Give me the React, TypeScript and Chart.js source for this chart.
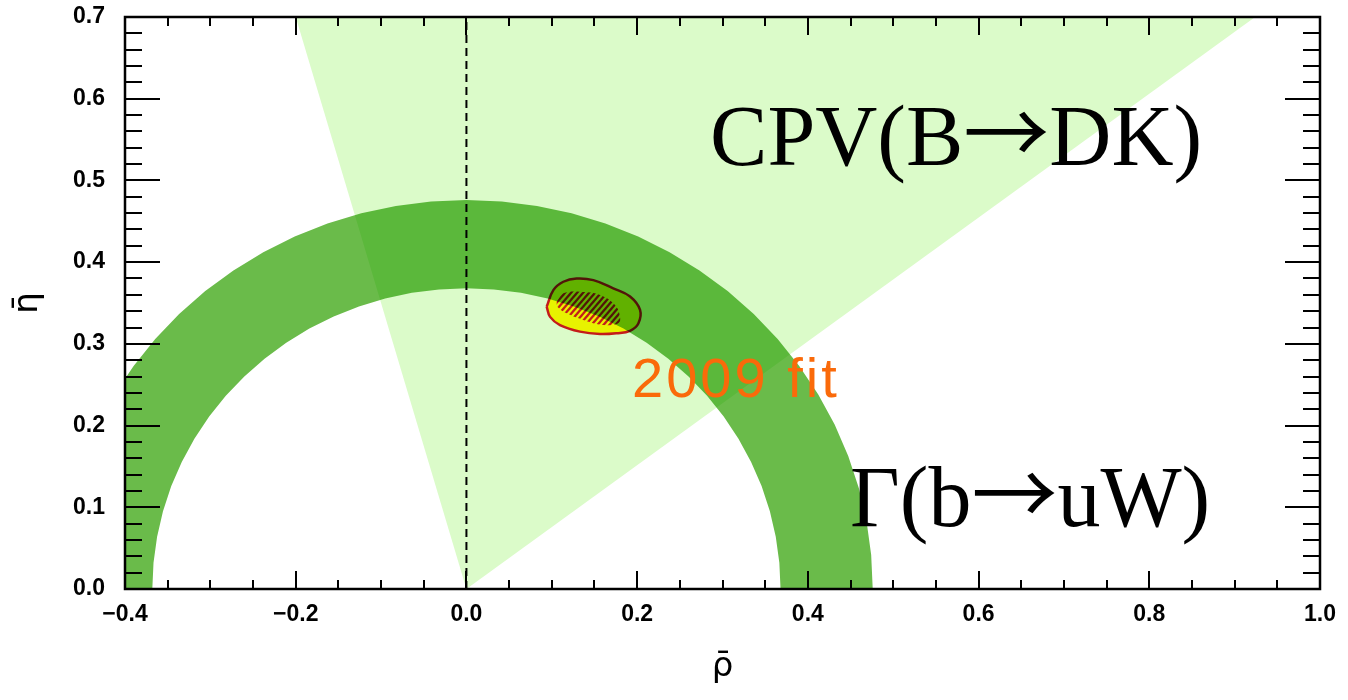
import React, { useEffect, useRef } from 'react';
import { Chart, registerables } from 'chart.js';

// blend plugin registered before the built-ins so it wraps the filler's drawing
const blendPlugin = {
  id: 'datasetBlend',
  beforeDatasetDraw(chart: any, args: any) {
    const ds = chart.data.datasets[args.index];
    if (ds && ds.blend) {
      chart.ctx.save();
      chart.ctx.globalCompositeOperation = ds.blend;
    }
  },
  afterDatasetDraw(chart: any, args: any) {
    const ds = chart.data.datasets[args.index];
    if (ds && ds.blend) chart.ctx.restore();
  },
};
Chart.register(blendPlugin as any);
Chart.register(...registerables);

// ---- tick labels ----
const xTickLabels = ['−0.4', '−0.2', '0.0', '0.2', '0.4', '0.6', '0.8', '1.0'];
const yTickLabels = ['0.0', '0.1', '0.2', '0.3', '0.4', '0.5', '0.6', '0.7'];

// ---- CPV(B→DK) wedge (apex at origin) ----
const wedgeX = [0, -0.2, 0.924];
const wedgeY = [0, 0.7, 0.7];

// ---- Γ(b→uW) band: outer edge (left → right) and inner edge (right → left) ----
const bandOuterX = [-0.476, -0.4742, -0.4688, -0.4598, -0.4473, -0.4314, -0.4122, -0.3899, -0.3646, -0.3366, -0.306, -0.273, -0.238, -0.2012, -0.1628, -0.1232, -0.0827, -0.0415, 0, 0.0415, 0.0827, 0.1232, 0.1628, 0.2012, 0.238, 0.273, 0.306, 0.3366, 0.3646, 0.3899, 0.4122, 0.4314, 0.4473, 0.4598, 0.4688, 0.4742, 0.476];
const bandOuterY = [0, 0.0415, 0.0827, 0.1232, 0.1628, 0.2012, 0.238, 0.273, 0.306, 0.3366, 0.3646, 0.3899, 0.4122, 0.4314, 0.4473, 0.4598, 0.4688, 0.4742, 0.476, 0.4742, 0.4688, 0.4598, 0.4473, 0.4314, 0.4122, 0.3899, 0.3646, 0.3366, 0.306, 0.273, 0.238, 0.2012, 0.1628, 0.1232, 0.0827, 0.0415, 0];
const bandInnerX = [0.368, 0.3666, 0.3624, 0.3555, 0.3458, 0.3335, 0.3187, 0.3014, 0.2819, 0.2602, 0.2365, 0.2111, 0.184, 0.1555, 0.1259, 0.0952, 0.0639, 0.0321, 0, -0.0321, -0.0639, -0.0952, -0.1259, -0.1555, -0.184, -0.2111, -0.2365, -0.2602, -0.2819, -0.3014, -0.3187, -0.3335, -0.3458, -0.3555, -0.3624, -0.3666, -0.368];
const bandInnerY = [0, 0.0321, 0.0639, 0.0952, 0.1259, 0.1555, 0.184, 0.2111, 0.2365, 0.2602, 0.2819, 0.3014, 0.3187, 0.3335, 0.3458, 0.3555, 0.3624, 0.3666, 0.368, 0.3666, 0.3624, 0.3555, 0.3458, 0.3335, 0.3187, 0.3014, 0.2819, 0.2602, 0.2365, 0.2111, 0.184, 0.1555, 0.1259, 0.0952, 0.0639, 0.0321, 0];

// ---- 2009 fit contours ----
const fitOuterX = [0.094, 0.102, 0.1135, 0.129, 0.1487, 0.172, 0.1917, 0.2034, 0.2014, 0.1917, 0.176, 0.1565, 0.133, 0.1096, 0.098, 0.094];
const fitOuterY = [0.3455, 0.366, 0.376, 0.38, 0.378, 0.368, 0.358, 0.3415, 0.325, 0.316, 0.313, 0.312, 0.315, 0.323, 0.333, 0.3455];
const fitInnerX = [0.1058, 0.1135, 0.1331, 0.1565, 0.1741, 0.1799, 0.178, 0.1604, 0.137, 0.1175, 0.1065, 0.1058];
const fitInnerY = [0.3517, 0.3619, 0.3639, 0.3599, 0.3476, 0.3333, 0.3252, 0.3231, 0.3293, 0.3374, 0.3455, 0.3517];

// ---- vertical reference line ----
const refLineX = [0, 0];
const refLineY = [0, 0.7];

// ---- annotation texts ----
const annotationTexts = ['CPV(B→DK)', 'Γ(b→uW)', '2009 fit'];
const annotationX = [0.2854, 0.4494, 0.194];
const annotationY = [0.519, 0.0765, 0.235];

const toPoints = (xs: number[], ys: number[]) => xs.map((x, i) => ({ x, y: ys[i] }));

const RED = '#c41c1a';
const SERIF = "'Liberation Serif', 'Times New Roman', serif";

export default function App() {
  const canvasRef = useRef<HTMLCanvasElement | null>(null);

  useEffect(() => {
    const canvas = canvasRef.current;
    if (!canvas) return;

    // hatch pattern
    const pc = document.createElement('canvas');
    pc.width = 6;
    pc.height = 7;
    const pctx = pc.getContext('2d')!;
    pctx.strokeStyle = RED;
    pctx.lineWidth = 2.3;
    for (const dx of [-6, 0, 6]) {
      pctx.beginPath();
      pctx.moveTo(dx - 1, 7 + 7 / 6);
      pctx.lineTo(dx + 7, -7 / 6);
      pctx.stroke();
    }
    const ctx0 = canvas.getContext('2d')!;
    const hatch = ctx0.createPattern(pc, 'repeat');

    const annotationStyles = [
      { size: 86, family: SERIF, color: '#000000', spacing: '0px' },
      { size: 86, family: SERIF, color: '#000000', spacing: '0px' },
      { size: 56, family: "'Liberation Sans', Arial, sans-serif", color: '#fa6a0a', spacing: '3px' },
    ];

    const framePlugin = {
      id: 'rootFrame',
      afterDatasetsDraw(chart: any) {
        const { ctx, chartArea, scales } = chart;
        const xs = scales.x;
        const ys = scales.y;
        const { left, right, top, bottom } = chartArea;
        ctx.save();
        // annotations (arrow glyph from a font with a long thin arrow)
        annotationTexts.forEach((t, i) => {
          const st = annotationStyles[i];
          ctx.fillStyle = st.color;
          ctx.textAlign = 'left';
          ctx.textBaseline = 'alphabetic';
          (ctx as any).letterSpacing = st.spacing;
          let px = xs.getPixelForValue(annotationX[i]);
          const py = ys.getPixelForValue(annotationY[i]);
          const parts = t.split(/(→)/);
          for (const part of parts) {
            if (!part) continue;
            if (part === '→') {
              ctx.font = `${st.size}px 'Noto Sans CJK JP', 'DejaVu Sans', sans-serif`;
            } else {
              ctx.font = `${st.size}px ${st.family}`;
            }
            ctx.fillText(part, px, py);
            px += ctx.measureText(part).width;
          }
        });
        (ctx as any).letterSpacing = '0px';
        // ticks inside the frame
        ctx.strokeStyle = '#000';
        ctx.lineWidth = 2;
        ctx.beginPath();
        for (let i = 0; i <= 28; i++) {
          const v = -0.4 + i * 0.05;
          const px = Math.round(xs.getPixelForValue(v));
          const len = i % 4 === 0 ? 18 : 9;
          ctx.moveTo(px, bottom);
          ctx.lineTo(px, bottom - len);
          ctx.moveTo(px, top);
          ctx.lineTo(px, top + len);
        }
        for (let i = 0; i <= 35; i++) {
          const v = i * 0.02;
          const py = Math.round(ys.getPixelForValue(v));
          const len = i % 5 === 0 ? 35 : 17;
          ctx.moveTo(left, py);
          ctx.lineTo(left + len, py);
          ctx.moveTo(right, py);
          ctx.lineTo(right - len, py);
        }
        ctx.stroke();
        ctx.lineWidth = 2.5;
        ctx.strokeRect(left, top, right - left, bottom - top);
        ctx.restore();
      },
    };

    const tickFont = { family: "'Liberation Sans', Arial, sans-serif", size: 23, weight: 'bold' as const };

    const chart = new Chart(canvas, {
      type: 'line',
      data: {
        datasets: [
          {
            label: 'wedge',
            data: toPoints(wedgeX, wedgeY),
            fill: 'shape',
            backgroundColor: '#dbfbc9',
            borderColor: 'transparent',
            borderWidth: 0,
            pointRadius: 0,
            order: 5,
          },
          {
            label: 'fit outer',
            data: toPoints(fitOuterX, fitOuterY),
            fill: 'shape',
            backgroundColor: '#e8f200',
            borderColor: RED,
            borderWidth: 2.5,
            tension: 0.4,
            pointRadius: 0,
            order: 4,
          },
          {
            label: 'fit inner',
            data: toPoints(fitInnerX, fitInnerY),
            fill: 'shape',
            backgroundColor: hatch as any,
            borderColor: 'transparent',
            borderWidth: 0,
            tension: 0.4,
            pointRadius: 0,
            order: 3,
          },
          {
            label: 'band',
            data: [...toPoints(bandOuterX, bandOuterY), ...toPoints(bandInnerX, bandInnerY)],
            fill: 'shape',
            backgroundColor: 'rgb(106,187,74)',
            borderColor: 'transparent',
            borderWidth: 0,
            pointRadius: 0,
            order: 2,
            blend: 'multiply',
          },
          {
            label: 'ref',
            data: toPoints(refLineX, refLineY),
            fill: false,
            borderColor: '#000',
            borderWidth: 2,
            borderDash: [8, 5],
            pointRadius: 0,
            order: 1,
          },
        ],
      },
      options: {
        animation: false,
        responsive: false,
        events: [],
        layout: { padding: { left: 0, top: 17, right: 28, bottom: 0 } },
        plugins: { legend: { display: false }, tooltip: { enabled: false } },
        scales: {
          x: {
            type: 'linear',
            min: -0.4,
            max: 1.0,
            ticks: {
              stepSize: 0.2,
              autoSkip: false,
              maxRotation: 0,
              padding: 12,
              color: '#000',
              font: tickFont,
              callback: (_v: any, i: number) => xTickLabels[i] ?? '',
            },
            grid: { display: false, drawTicks: false },
            border: { display: false },
            title: {
              display: true,
              text: 'ρ\u0304',
              color: '#000',
              font: { family: "'DejaVu Sans', sans-serif", size: 34 },
              padding: { top: 0, bottom: 12 },
            },
            afterFit: (s: any) => {
              s.height = 111;
            },
          },
          y: {
            type: 'linear',
            min: 0,
            max: 0.7,
            ticks: {
              stepSize: 0.1,
              autoSkip: false,
              padding: 20,
              color: '#000',
              font: tickFont,
              callback: (_v: any, i: number) => yTickLabels[i] ?? '',
            },
            grid: { display: false, drawTicks: false },
            border: { display: false },
            title: {
              display: true,
              text: 'η\u0304',
              color: '#000',
              font: { family: "'DejaVu Sans', sans-serif", size: 34 },
              padding: { top: 8, bottom: 0 },
            },
            afterFit: (s: any) => {
              s.width = 125;
              s.paddingTop = 0;
              s.paddingBottom = 0;
            },
          },
        },
      },
      plugins: [framePlugin],
    } as any);

    return () => chart.destroy();
  }, []);

  return (
    <div style={{ position: 'absolute', left: 0, top: 0, width: 1348, height: 700, background: '#fff' }}>
      <canvas ref={canvasRef} width={1348} height={700} style={{ width: 1348, height: 700, display: 'block' }} />
    </div>
  );
}
